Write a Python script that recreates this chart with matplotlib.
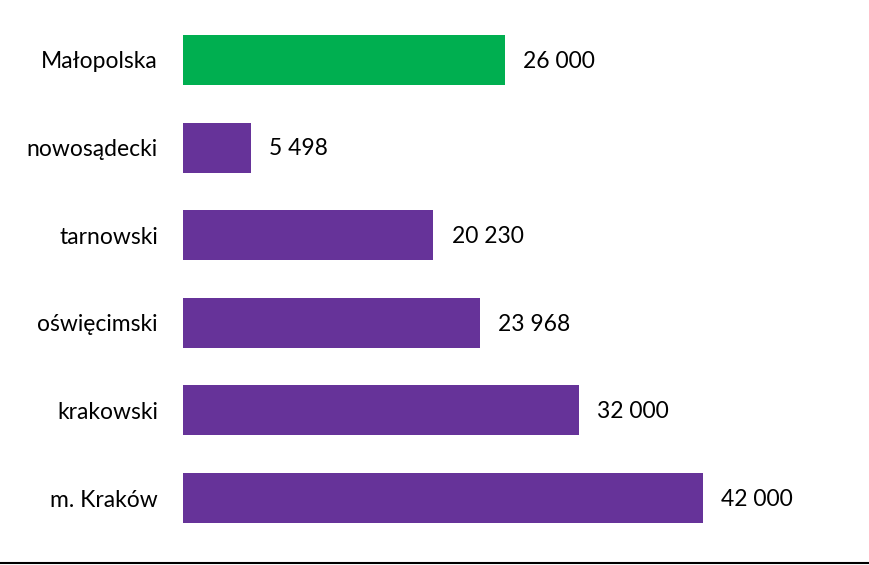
import matplotlib.pyplot as plt
from matplotlib.lines import Line2D

categories = ["Małopolska", "nowosądecki", "tarnowski", "oświęcimski", "krakowski", "m. Kraków"]
values = [26000, 5498, 20230, 23968, 32000, 42000]
labels = ["26 000", "5 498", "20 230", "23 968", "32 000", "42 000"]
colors = ["#00AF50", "#663399", "#663399", "#663399", "#663399", "#663399"]

plt.rcParams['font.family'] = ['Lato', 'DejaVu Sans']

fig = plt.figure(figsize=(8.69, 5.65), dpi=100)
ax = fig.add_axes([183 / 869, 2 / 565, 1 - 183 / 869, 563 / 565])

pos = list(range(len(categories)))
ax.barh(pos, values, height=0.57, color=colors)
for p, v, lab in zip(pos, values, labels):
    ax.annotate(lab, (v, p), xytext=(13, -1), textcoords='offset points',
                va='center', ha='left', fontsize=16.5, color='black')

ax.set_xlim(0, 686 / 0.01238)
ax.set_ylim(5 + 65 / 87.6, -60 / 87.6)
ax.set_yticks(pos)
ax.set_yticklabels(categories, fontsize=16.5)
ax.tick_params(axis='y', length=0, pad=18)
ax.set_xticks([])
for s in ax.spines.values():
    s.set_visible(False)

# bottom rule across the full width
fig.add_artist(Line2D([0, 1], [2 / 565, 2 / 565], color='black', lw=1.5,
                      transform=fig.transFigure))

fig.savefig("out.png", dpi=100)
